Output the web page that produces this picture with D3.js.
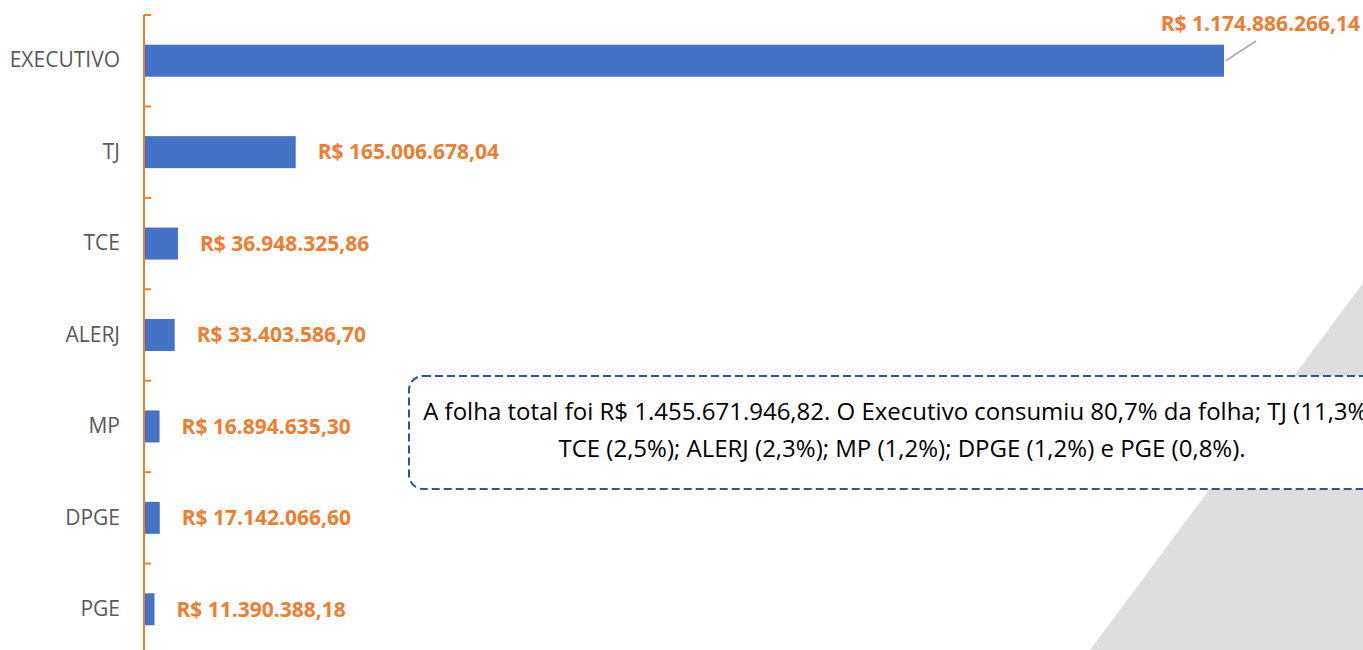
<!DOCTYPE html>
<html>
<head>
<meta charset="utf-8">
<script src="https://cdn.jsdelivr.net/npm/d3@7/dist/d3.min.js"></script>
<style>
	body { margin: 0; background: #fff; }
	svg { display: block; font-family: "Open Sans", sans-serif; }
</style>
</head>
<body>
<svg id="chart" width="1363" height="650"></svg>
<script>
const WIDTH = 1363,
	  HEIGHT = 650;

// data
const categories = ["EXECUTIVO", "TJ", "TCE", "ALERJ", "MP", "DPGE", "PGE"];
const values = [1174886266.14, 165006678.04, 36948325.86, 33403586.70, 16894635.30, 17142066.60, 11390388.18];
const valueLabels = ["R$ 1.174.886.266,14", "R$ 165.006.678,04", "R$ 36.948.325,86", "R$ 33.403.586,70",
	"R$ 16.894.635,30", "R$ 17.142.066,60", "R$ 11.390.388,18"];
const noteLines = [
	"A folha total foi R$ 1.455.671.946,82. O Executivo consumiu 80,7% da folha; TJ (11,3%);",
	"TCE (2,5%); ALERJ (2,3%); MP (1,2%); DPGE (1,2%) e PGE (0,8%)."
];

let svg = d3.select("#chart");

// grey decoration in the bottom right corner
svg.append("polygon")
	.attr("points", "1090,650 1363,283 1363,650")
	.style("fill", "#dedede");

let x = d3.scaleLinear()
	.domain([0, values[0]])
	.range([144, 1224]);

let y = d3.scaleBand()
	.domain(categories)
	.range([15, 655]);

let barH = y.bandwidth() * 0.35;

// category labels
let yAxis = svg.append("g")
	.attr("transform", "translate(144,0)")
	.call(d3.axisLeft(y).tickSize(0).tickPadding(24));

yAxis.select(".domain").remove();
yAxis.selectAll("text")
	.style("font-family", "'Open Sans', sans-serif")
	.style("font-size", "21px")
	.style("fill", "#595959");

// bars
svg.selectAll(".bar")
	.data(categories)
	.enter().append("rect")
		.attr("class", "bar")
		.attr("x", x(0))
		.attr("y", d => y(d) + (y.bandwidth() - barH) / 2)
		.attr("width", (d, i) => x(values[i]) - x(0))
		.attr("height", barH)
		.style("fill", "#4472c4");

// orange axis line and ticks between categories
svg.append("line")
	.attr("x1", 144).attr("x2", 144)
	.attr("y1", y.range()[0]).attr("y2", y.range()[1])
	.style("stroke", "#ed7d31")
	.style("stroke-width", 2);

let bounds = categories.map(d => y(d)).concat([y.range()[1]]);
svg.selectAll(".tick-mark")
	.data(bounds)
	.enter().append("line")
		.attr("class", "tick-mark")
		.attr("x1", 144).attr("x2", 151)
		.attr("y1", d => d).attr("y2", d => d)
		.style("stroke", "#ed7d31")
		.style("stroke-width", 2);

// value labels (the first one sits above, with a leader line)
svg.selectAll(".val")
	.data(categories)
	.enter().append("text")
		.attr("class", "val")
		.attr("x", (d, i) => i == 0 ? 1360 : x(values[i]) + 22)
		.attr("y", (d, i) => i == 0 ? 24 : y(d) + y.bandwidth() / 2)
		.attr("dy", "0.35em")
		.attr("text-anchor", (d, i) => i == 0 ? "end" : "start")
		.style("font-size", "21px")
		.style("font-weight", "bold")
		.style("fill", "#ed7d31")
		.text((d, i) => valueLabels[i]);

svg.append("line")
	.attr("x1", x(values[0]) + 2)
	.attr("y1", y(categories[0]) + y.bandwidth() / 2)
	.attr("x2", x(values[0]) + 32)
	.attr("y2", 41)
	.style("stroke", "#a6a6a6")
	.style("stroke-width", 1.5);

// note box
svg.append("rect")
	.attr("x", 409)
	.attr("y", 376)
	.attr("width", 986)
	.attr("height", 113)
	.attr("rx", 14)
	.style("fill", "#fff")
	.style("stroke", "#2f5597")
	.style("stroke-width", 2)
	.style("stroke-dasharray", "8,4");

svg.selectAll(".note")
	.data(noteLines)
	.enter().append("text")
		.attr("class", "note")
		.attr("x", 902)
		.attr("y", (d, i) => 412 + i * 37)
		.attr("dy", "0.35em")
		.attr("text-anchor", "middle")
		.style("font-size", "24px")
		.style("fill", "#000")
		.text(d => d);
</script>
</body>
</html>
